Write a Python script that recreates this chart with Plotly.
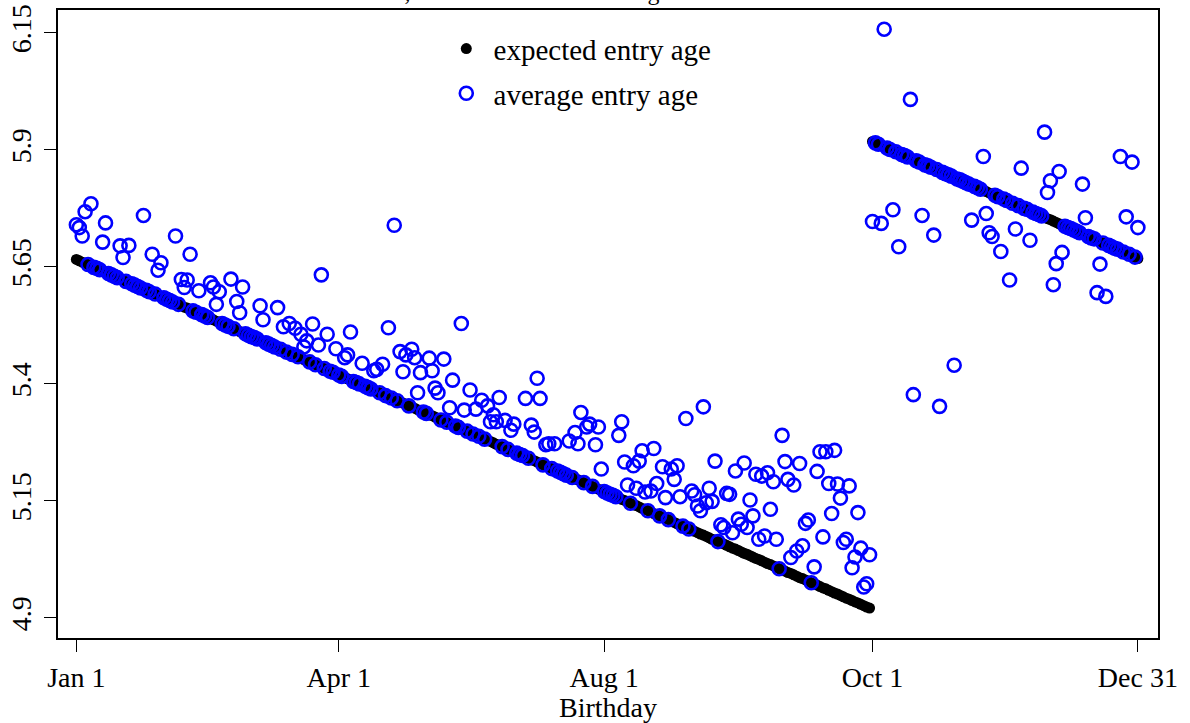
import plotly.graph_objects as go

# ---------------- data ----------------
birthdays = list(range(1, 366))  # day of year of birth (Jan 1 = 1)

# expected entry age (black dots), one per birthday
expected_age = [
    # Jan 1 .. Jan 25
    5.666, 5.663, 5.660, 5.658, 5.655, 5.652, 5.649, 5.647, 5.644, 5.641,
    5.638, 5.636, 5.633, 5.630, 5.627, 5.625, 5.622, 5.619, 5.616, 5.614,
    5.611, 5.608, 5.605, 5.603, 5.600,
    # day 26 .. 98
    5.597, 5.595, 5.592, 5.589, 5.586, 5.584, 5.581, 5.578, 5.575, 5.573,
    5.570, 5.567, 5.564, 5.562, 5.559, 5.556, 5.553, 5.551, 5.548, 5.545,
    5.542, 5.540, 5.537, 5.534, 5.532, 5.529, 5.526, 5.523, 5.521, 5.518,
    5.515, 5.512, 5.510, 5.507, 5.504, 5.501, 5.499, 5.496, 5.493, 5.490,
    5.488, 5.485, 5.482, 5.479, 5.477, 5.474, 5.471, 5.468, 5.466, 5.463,
    5.460, 5.458, 5.455, 5.452, 5.449, 5.447, 5.444, 5.441, 5.438, 5.436,
    5.433, 5.430, 5.427, 5.425, 5.422, 5.419, 5.416, 5.414, 5.411, 5.408,
    5.405, 5.403, 5.400,
    # day 99 .. 171
    5.397, 5.395, 5.392, 5.389, 5.386, 5.384, 5.381, 5.378, 5.375, 5.373,
    5.370, 5.367, 5.364, 5.362, 5.359, 5.356, 5.353, 5.351, 5.348, 5.345,
    5.342, 5.340, 5.337, 5.334, 5.332, 5.329, 5.326, 5.323, 5.321, 5.318,
    5.315, 5.312, 5.310, 5.307, 5.304, 5.301, 5.299, 5.296, 5.293, 5.290,
    5.288, 5.285, 5.282, 5.279, 5.277, 5.274, 5.271, 5.268, 5.266, 5.263,
    5.260, 5.258, 5.255, 5.252, 5.249, 5.247, 5.244, 5.241, 5.238, 5.236,
    5.233, 5.230, 5.227, 5.225, 5.222, 5.219, 5.216, 5.214, 5.211, 5.208,
    5.205, 5.203, 5.200,
    # day 172 .. 244
    5.197, 5.195, 5.192, 5.189, 5.186, 5.184, 5.181, 5.178, 5.175, 5.173,
    5.170, 5.167, 5.164, 5.162, 5.159, 5.156, 5.153, 5.151, 5.148, 5.145,
    5.142, 5.140, 5.137, 5.134, 5.132, 5.129, 5.126, 5.123, 5.121, 5.118,
    5.115, 5.112, 5.110, 5.107, 5.104, 5.101, 5.099, 5.096, 5.093, 5.090,
    5.088, 5.085, 5.082, 5.079, 5.077, 5.074, 5.071, 5.068, 5.066, 5.063,
    5.060, 5.058, 5.055, 5.052, 5.049, 5.047, 5.044, 5.041, 5.038, 5.036,
    5.033, 5.030, 5.027, 5.025, 5.022, 5.019, 5.016, 5.014, 5.011, 5.008,
    5.005, 5.003, 5.000,
    # day 245 .. 273 (Sep 30)
    4.997, 4.995, 4.992, 4.989, 4.986, 4.984, 4.981, 4.978, 4.975, 4.973,
    4.970, 4.967, 4.964, 4.962, 4.959, 4.956, 4.953, 4.951, 4.948, 4.945,
    4.942, 4.940, 4.937, 4.934, 4.932, 4.929, 4.926, 4.923, 4.921,
    # day 274 (Oct 1) .. 316
    5.918, 5.915, 5.912, 5.910, 5.907, 5.904, 5.901, 5.899, 5.896, 5.893,
    5.890, 5.888, 5.885, 5.882, 5.879, 5.877, 5.874, 5.871, 5.868, 5.866,
    5.863, 5.860, 5.858, 5.855, 5.852, 5.849, 5.847, 5.844, 5.841, 5.838,
    5.836, 5.833, 5.830, 5.827, 5.825, 5.822, 5.819, 5.816, 5.814, 5.811,
    5.808, 5.805, 5.803,
    # day 317 .. 365 (Dec 31)
    5.800, 5.797, 5.795, 5.792, 5.789, 5.786, 5.784, 5.781, 5.778, 5.775,
    5.773, 5.770, 5.767, 5.764, 5.762, 5.759, 5.756, 5.753, 5.751, 5.748,
    5.745, 5.742, 5.740, 5.737, 5.734, 5.732, 5.729, 5.726, 5.723, 5.721,
    5.718, 5.715, 5.712, 5.710, 5.707, 5.704, 5.701, 5.699, 5.696, 5.693,
    5.690, 5.688, 5.685, 5.682, 5.679, 5.677, 5.674, 5.671, 5.668,
]

# average entry age: birthdays where it departs from the expected age
avg_off_days = [
    1, 2, 3, 4, 6, 10, 11, 16, 17, 19,
    24, 27, 29, 30, 35, 37, 38, 39, 40, 43,
    47, 48, 49, 50, 54, 56, 57, 58, 64, 65,
    70, 72, 74, 76, 78, 79, 80, 82, 84, 85,
    87, 90, 93, 94, 95, 99, 103, 104, 106, 108,
    110, 112, 113, 114, 116, 117, 118, 119, 122, 123,
    124, 125, 127, 129, 130, 133, 134, 136, 138, 140,
    142, 143, 144, 145, 146, 148, 150, 151, 155, 157,
    158, 159, 160, 162, 163, 165, 170, 172, 173, 174,
    176, 177, 179, 180, 181, 187, 188, 189, 190, 192,
    193, 194, 195, 196, 198, 199, 200, 202, 203, 205,
    206, 207, 208, 210, 212, 213, 214, 215, 216, 217,
    218, 219, 220, 222, 223, 224, 225, 226, 227, 228,
    229, 230, 231, 232, 233, 234, 235, 236, 237, 238,
    239, 240, 241, 243, 244, 245, 246, 247, 248, 249,
    250, 251, 252, 254, 255, 256, 257, 258, 259, 260,
    261, 262, 263, 264, 265, 266, 267, 268, 269, 270,
    271, 272, 273, 274, 277, 278, 281, 283, 287, 288,
    291, 295, 297, 302, 308, 312, 313, 314, 315, 318,
    321, 323, 325, 328, 333, 334, 335, 336, 337, 338,
    339, 346, 347, 351, 352, 354, 359, 361, 363, 365,
]
avg_off_vals = [
    5.740, 5.734, 5.716, 5.768, 5.785, 5.703, 5.744, 5.695, 5.670, 5.696,
    5.760, 5.677, 5.643, 5.659, 5.716, 5.623, 5.606, 5.622, 5.677, 5.599,
    5.616, 5.607, 5.570, 5.597, 5.624, 5.576, 5.552, 5.607, 5.567, 5.537,
    5.563, 5.522, 5.529, 5.519, 5.506, 5.479, 5.492, 5.528, 5.483, 5.633,
    5.506, 5.475, 5.456, 5.462, 5.511, 5.444, 5.428, 5.431, 5.442, 5.520,
    5.739, 5.469, 5.426, 5.462, 5.474, 5.456, 5.381, 5.424, 5.455, 5.428,
    5.391, 5.381, 5.453, 5.349, 5.408, 5.529, 5.344, 5.387, 5.346, 5.365,
    5.353, 5.319, 5.334, 5.319, 5.371, 5.322, 5.301, 5.314, 5.369, 5.312,
    5.297, 5.412, 5.369, 5.270, 5.272, 5.272, 5.278, 5.296, 5.272, 5.339,
    5.308, 5.314, 5.270, 5.308, 5.218, 5.290, 5.319, 5.233, 5.184, 5.225,
    5.177, 5.235, 5.257, 5.169, 5.171, 5.262, 5.187, 5.223, 5.157, 5.218,
    5.196, 5.225, 5.159, 5.326, 5.171, 5.163, 5.139, 5.129, 5.351, 5.146,
    5.177, 5.149, 5.235, 5.099, 5.093, 5.166, 5.164, 5.082, 5.214, 5.111,
    5.100, 5.231, 5.093, 5.152, 5.118, 5.207, 5.068, 5.203, 5.075, 5.210,
    5.132, 5.191, 5.068, 5.290, 5.234, 5.196, 5.029, 5.184, 5.043, 5.230,
    5.054, 5.102, 5.109, 5.009, 5.213, 5.255, 5.073, 5.255, 5.187, 5.123,
    5.258, 5.186, 5.156, 5.061, 5.068, 5.182, 5.007, 5.030, 5.125, 5.049,
    4.966, 4.973, 5.035, 5.747, 5.743, 6.158, 5.772, 5.693, 6.008, 5.377,
    5.760, 5.718, 5.352, 5.440, 5.750, 5.886, 5.764, 5.723, 5.715, 5.683,
    5.622, 5.731, 5.861, 5.707, 5.938, 5.809, 5.834, 5.612, 5.657, 5.854,
    5.681, 5.827, 5.755, 5.595, 5.656, 5.587, 5.886, 5.757, 5.874, 5.734,
]

tick_days = [1, 91, 182, 274, 365]
tick_labels = ["Jan 1", "Apr 1", "Aug 1", "Oct 1", "Dec 31"]
y_ticks = [4.9, 5.15, 5.4, 5.65, 5.9, 6.15]
y_tick_labels = ["4.9", "5.15", "5.4", "5.65", "5.9", "6.15"]

# on all other birthdays the average coincides with the expected age
off_lookup = dict(zip(avg_off_days, avg_off_vals))
average_age = [off_lookup.get(d, e) for d, e in zip(birthdays, expected_age)]

# ---------------- figure ----------------
SERIF = "Liberation Serif, Times New Roman, serif"

fig = go.Figure()
fig.add_trace(go.Scatter(
    x=birthdays, y=expected_age, mode="markers",
    name=" expected entry age", legendgroup="a",
    marker=dict(symbol="circle", size=11, color="black", line=dict(width=0)),
))
fig.add_trace(go.Scatter(
    x=birthdays, y=average_age, mode="markers",
    name=" average entry age", legendgroup="b",
    marker=dict(symbol="circle-open", size=13, color="#0000FF",
                line=dict(width=2.6, color="#0000FF")),
))

axis_common = dict(
    showgrid=False, zeroline=False, showline=True, mirror=True,
    linecolor="black", linewidth=1.6, ticks="outside", ticklen=12,
    tickwidth=1.3, tickcolor="black",
    tickfont=dict(family=SERIF, size=28, color="black"),
)

fig.update_layout(
    width=1190, height=723,
    margin=dict(l=58, r=32, t=10, b=85, autoexpand=False),
    paper_bgcolor="white", plot_bgcolor="white",
    font=dict(family=SERIF, color="black"),
    title=dict(
        text="Date of Birth, Cutoff Date and Entering Cohorts",
        font=dict(family=SERIF, size=24, color="black"),
        xref="container", x=0.2336, xanchor="left",
        yref="container", y=1.0, yanchor="bottom",
    ),
    showlegend=True,
    legend=dict(
        x=0.353, y=0.979, xanchor="left", yanchor="top",
        bgcolor="rgba(0,0,0,0)", borderwidth=0,
        font=dict(family=SERIF, size=29, color="black"),
        tracegroupgap=4, itemclick=False,
    ),
    xaxis=dict(
        range=[-5.3, 371.9], tickvals=tick_days, ticktext=tick_labels,
        ticklabelstandoff=2,
        title=dict(text="Birthday", font=dict(family=SERIF, size=28), standoff=0),
        **axis_common,
    ),
    yaxis=dict(
        range=[4.857, 6.199], tickvals=y_ticks, ticktext=y_tick_labels,
        tickangle=-90, ticklabelstandoff=2,
        **axis_common,
    ),
)

fig.write_html(
    "out.html",
    config={"displayModeBar": False},
    post_script="document.body.style.margin='0';document.body.style.overflow='hidden';",
)
